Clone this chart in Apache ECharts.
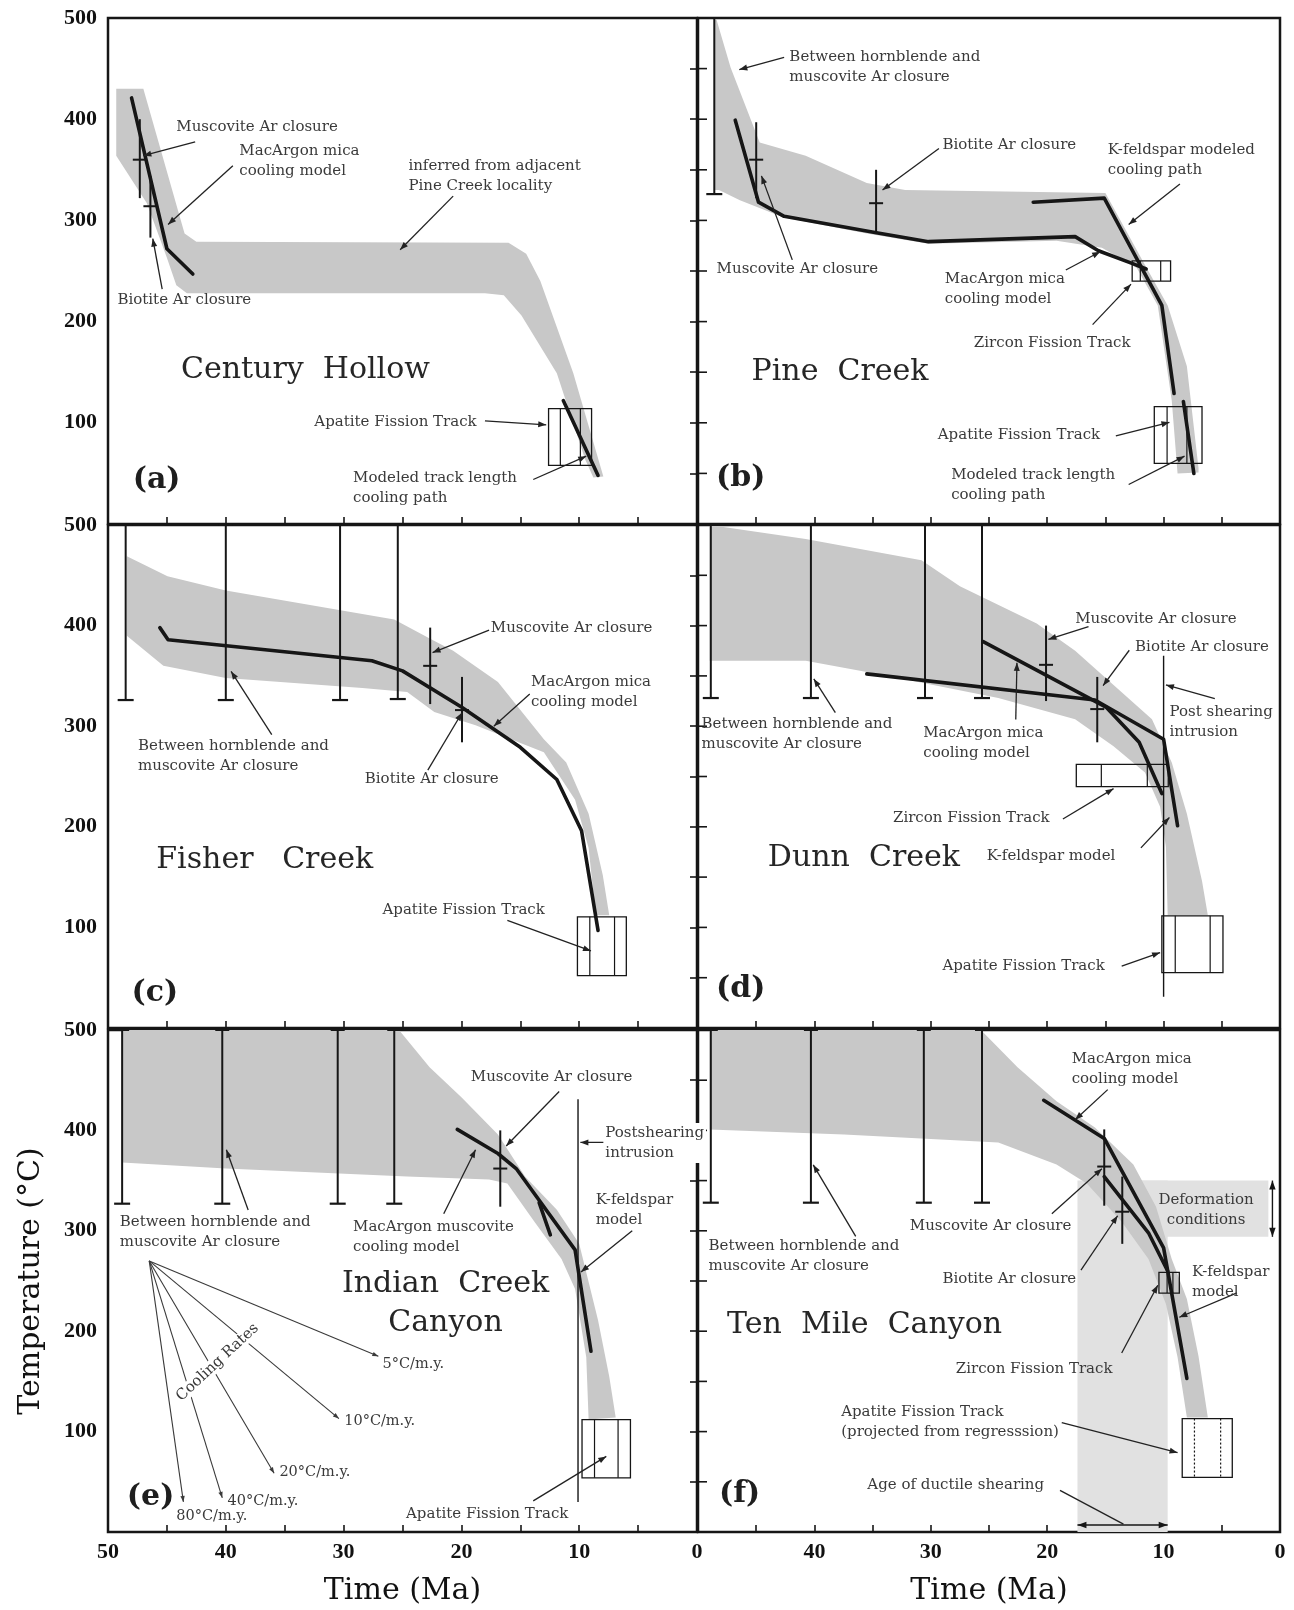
<!DOCTYPE html>
<html><head><meta charset="utf-8">
<script src="https://cdn.jsdelivr.net/npm/echarts/dist/echarts.min.js"></script>
<style>html,body{margin:0;padding:0;background:#fff}#c{width:1294px;height:1610px}</style>
</head><body><div id="c"></div>
<script>
// ---------------- axis labels ----------------
const timeLabelsLeft = [50, 40, 30, 20, 10, 0];
const timeLabelsRight = [40, 30, 20, 10, 0];
const tempLabels = [500, 400, 300, 200, 100];
const tempTicks = [0, 50, 100, 150, 200, 250, 300, 350, 400, 450, 500];

// ---------------- (a) Century Hollow ----------------
const bandA = [[49.3,430],[47.0,430],[43.5,287],[42.5,279],[16,278],[14.5,267],[13.3,240],[10.5,149],[7.95,47],[8.8,46],[9.5,64],[11.9,149],[14.9,206],[16.4,226],[18,228],[43.3,228],[44.2,236],[45.0,263],[46.7,317],[49.3,364]];
const pathA_mica = [[48.0,421],[45.0,272],[42.8,247]];
const pathA_track = [[11.35,122],[8.4,48]];
const closureA = [[47.3,322,400,360],[46.4,283,344,314]];   // [time, low T, high T, closure T]
const boxA = [[12.6,8.95,58,114,11.6,9.9]];                 // [t left, t right, low T, high T, inner t...]
const annA = [
  ['Muscovite Ar closure', 44.2, 392, [42.6,377.5,47.0,364]],
  ['MacArgon mica\ncooling model', 38.85, 368, [39.4,354,44.9,296]],
  ['Biotite Ar closure', 49.2, 221, [45.4,232,46.2,282]],
  ['inferred from adjacent\nPine Creek locality', 24.5, 354, [20.7,324,25.2,271]],
  ['Apatite Fission Track', 18.7, 100.5, [18.0,102,12.8,98], 'right'],
  ['Modeled track length\ncooling path', 29.2, 45.5, [13.9,44,9.4,67]]
];

// ---------------- (b) Pine Creek ----------------
const bandB = [[48.6,500],[48.4,498],[47.2,451],[44.7,377],[40.75,364],[35.5,337],[32.2,330],[15,327],[11.6,256],[9.65,216],[8.0,156],[7.0,55],[7.0,51],[8.8,50],[9.3,122],[10.5,216],[12.3,253],[15.3,273],[19.2,280],[30.2,277],[35.5,287],[42.7,303],[46.4,320],[48.2,330],[48.6,330]];
const pathB_mica = [[46.8,399],[44.8,318],[42.6,304],[34.8,288],[30.2,279],[17.6,284],[15.6,270],[12.6,257],[11.5,252]];
const pathB_kfs = [[21.2,318],[15.1,322],[10.15,216],[9.1,129]];
const pathB_track = [[8.3,121],[7.4,50]];
const rangeB = [[48.6,326,500]];
const closureB = [[45.0,322,397,360],[34.7,287,350,317]];
const boxB = [[12.7,9.4,240,260,12.0,10.25],[10.8,6.7,60,116,9.7,8.0]];
const annB = [
  ['Between hornblende and\nmuscovite Ar closure', 42.15, 461.7, [42.6,461,46.45,449]],
  ['Biotite Ar closure', 29.0, 374, [29.3,371,34.15,330]],
  ['K-feldspar modeled\ncooling path', 14.8, 369, [8.6,336,13.0,296]],
  ['Muscovite Ar closure', 48.4, 251.7, [41.9,261,44.55,344]],
  ['MacArgon mica\ncooling model', 28.8, 242.4, [18.4,251,15.45,269]],
  ['Zircon Fission Track', 26.3, 179, [16.1,197,12.8,237]],
  ['Apatite Fission Track', 29.4, 88, [14.1,87,9.5,100.5]],
  ['Modeled track length\ncooling path', 28.25, 48, [13.0,39,8.2,67]]
];

// ---------------- (c) Fisher Creek ----------------
const bandC = [[48.4,469],[44.95,449],[40,435],[25.7,406],[22.65,387],[20.7,375],[16.9,344],[13.0,287],[11.1,264],[9.2,213],[8.0,152],[7.45,112],[8.6,112],[9.2,179],[10.35,227],[13.0,274],[18.8,301],[22.3,314],[24.6,334],[28.4,338],[40,348],[45.3,360],[48.4,390]];
const pathC = [[45.6,398],[44.9,386],[27.6,365],[25.0,355],[20.0,319],[15.0,279],[11.9,247],[9.8,196],[8.4,97]];
const rangeC = [[48.5,326,500],[40.0,326,500],[30.3,326,500],[25.4,327,500]];
const closureC = [[22.65,322,398,360],[19.95,284,349,316]];
const boxC = [[10.15,6.0,52,110.5,9.1,7.0]];
const annC = [
  ['Muscovite Ar closure', 17.5, 397.4, [17.65,395.6,22.45,373.2]],
  ['MacArgon mica\ncooling model', 14.1, 343.6, [14.2,332,17.25,300]],
  ['Between hornblende and\nmuscovite Ar closure', 47.45, 279.8, [36.1,291.6,39.55,354.4]],
  ['Biotite Ar closure', 28.2, 247.2, [22.85,256.4,19.95,313.4]],
  ['Apatite Fission Track', 26.7, 117.6, [16.1,107,9.0,76.6]]
];

// ---------------- (d) Dunn Creek ----------------
const bandD = [[49.0,500],[40.75,486],[30.8,465],[27.5,439],[20.9,402],[17.6,375],[14.3,341],[11.0,307],[9.3,264],[8.0,213],[6.7,146],[6.2,112],[9.65,112],[9.8,180],[10.3,220],[11.6,254],[14.3,280],[17.6,307],[24.2,328],[34.1,351],[40.75,365],[49.0,365]];
const pathD_kfs = [[35.5,352],[15.9,326],[10.0,287],[8.8,201]];
const pathD_mica = [[25.5,384],[14.95,319],[12.1,284],[10.15,233]];
const rangeD = [[48.9,328,500],[40.3,328,500],[30.5,328,500],[25.6,328,500]];
const closureD = [[20.1,325,400,361],[15.7,284,349,317]];
const boxD = [[17.5,9.6,240,262,15.35,11.4],[10.15,4.9,55,111.5,9.0,6.0]];
const intrusionD = [[10.0,31,370]];
const annD = [
  ['Muscovite Ar closure', 17.6, 406.8, [16.45,399,19.9,386.3]],
  ['Biotite Ar closure', 12.45, 378.9, [12.95,375.5,15.2,340.3]],
  ['Post shearing\nintrusion', 9.5, 314.4, [5.6,327.5,9.8,341]],
  ['Between hornblende and\nmuscovite Ar closure', 49.7, 301.7, [38.2,313.4,40.05,347]],
  ['MacArgon mica\ncooling model', 30.65, 293.2, [22.7,306.7,22.6,363]],
  ['Zircon Fission Track', 33.25, 208.7, [18.65,207.7,14.3,237.9]],
  ['K-feldspar model', 25.2, 170.7, [11.95,179,9.5,209.3]],
  ['Apatite Fission Track', 29.0, 61.5, [13.6,61.5,10.3,75]]
];

// ---------------- (e) Indian Creek Canyon ----------------
const bandE = [[48.8,500],[25.3,500],[22.7,463],[20.0,433],[16.9,396],[14.6,354],[11.9,321],[10.0,287],[9.2,249],[8.4,211],[7.45,155],[6.9,114],[9.2,112],[9.4,174],[10.35,242],[11.5,272],[13.8,309],[16.1,347],[17.65,351],[24.6,354],[40,362],[48.8,368]];
const pathE_mica = [[20.35,401],[16.9,377],[15.35,362],[10.35,281],[9.0,180]];
const pathE_kfs = [[13.4,328],[12.45,296]];
const rangeE = [[48.8,327,500],[40.3,327,500],[30.5,327,500],[25.7,327,500]];
const closureE = [[16.7,324,400,362]];
const boxE = [[9.76,5.65,54,112,8.7,6.7]];
const intrusionE = [[10.1,30,431]];
const coolingOrigin = [46.5, 270];
const coolingRateLabels = ['5°C/m.y.', '10°C/m.y.', '20°C/m.y.', '40°C/m.y.', '80°C/m.y.'];
const coolingRateEnds = [[27.05,175],[30.4,113],[35.9,58.5],[40.3,34],[43.6,30]];
const coolingRateLabelPos = [[26.7,167],[29.95,110],[35.45,60],[39.85,31],[44.2,15.3]];
const annE = [
  ['Muscovite Ar closure', 19.2, 453, [11.7,438.7,16.2,384.5]],
  ['Postshearing\nintrusion', 7.95, 397.5, [6.2,388,9.9,388], 'left', true],
  ['K-feldspar\nmodel', 8.6, 330.9, [5.5,300,9.85,259]],
  ['Between hornblende and\nmuscovite Ar closure', 49.0, 308.8, [38.1,320.7,39.95,380.7]],
  ['MacArgon muscovite\ncooling model', 29.2, 303.9, [21.5,317,18.8,380.7]],
  ['Apatite Fission Track', 24.7, 18.3, [13.9,31,7.7,75.3]]
];

// ---------------- (f) Ten Mile Canyon ----------------
const bandF = [[49,500],[25.7,500],[22.55,463],[19.2,429],[15.9,403],[12.6,366],[10.65,324],[9.3,272],[8.0,232],[7.0,175],[6.2,114],[8.0,114],[8.8,174],[9.8,227],[11.3,272],[13.6,309],[16.6,347],[19.2,366],[24.2,388],[37.45,396],[49,401]];
const shearingAgeF = [17.4, 9.65, 0, 350];      // [t left, t right, low T, high T]
const deformationF = [12.0, 1.0, 294, 350];
const pathF_mica = [[20.3,430],[15.1,392],[10.0,283],[8.0,153]];
const pathF_kfs = [[15.1,354],[11.3,298],[9.65,260]];
const rangeF = [[48.9,328,500],[40.3,328,500],[30.6,328,500],[25.6,328,500]];
const closureF = [[15.1,325,401,364],[13.55,287,354,319]];
const boxF_zircon = [[10.4,8.65,238,258.5,9.7,9.2]];
const boxF_apatite = [[8.4,4.1,54.4,113,7.35,5.1]];
const doubleArrowsF = [[17.4,6.9,9.65,6.9],[0.65,350,0.65,294]];
const annF = [
  ['MacArgon mica\ncooling model', 17.9, 470.6, [14.8,440.6,17.6,410.7]],
  ['Muscovite Ar closure', 31.8, 304.6, [19.6,316.9,15.3,361.9]],
  ['Deformation\nconditions', 6.35, 330.1, null, 'center'],
  ['Between hornblende and\nmuscovite Ar closure', 49.1, 285.2, [36.45,294.5,40.1,365.7]],
  ['Biotite Ar closure', 29.0, 252.2, [17.1,260.8,13.95,315]],
  ['K-feldspar\nmodel', 7.55, 258.9, [3.7,238.2,8.65,213.9]],
  ['Zircon Fission Track', 27.85, 162.2, [13.6,178.3,10.5,245.8]],
  ['Apatite Fission Track\n(projected from regresssion)', 37.7, 119.5, [18.75,109,8.8,79]],
  ['Age of ductile shearing', 35.45, 47.2, [18.9,41.5,13.45,7.9,0]]
];

// ---------------- titles ----------------
const siteNames = [
  ['Century  Hollow', 43.8, 152],
  ['Pine  Creek', 45.4, 150],
  ['Fisher   Creek', 45.9, 167],
  ['Dunn  Creek', 44.0, 169],
  ['Indian  Creek\nCanyon', 21.35, 247, null, 'center'],
  ['Ten  Mile  Canyon', 47.5, 206]
];
const panelLetters = [['(a)',47.9,43],['(b)',48.45,45.5],['(c)',48.0,34.8],['(d)',48.45,38.1],['(e)',48.4,34.9],['(f)',48.2,37.8]];

// ======================================================
const SERIF = 'DejaVu Serif';
const TICKF = 'Liberation Serif';
const INK = '#161616';
const TXT = '#3a3a3a';
const BAND = '#c8c8c8';
const LIGHT = '#e1e1e1';

const GRIDS = [
  {left:108, top:18, width:589, height:506},
  {left:698, top:18, width:582, height:506},
  {left:108, top:525, width:589, height:503},
  {left:698, top:525, width:582, height:503},
  {left:108, top:1030, width:589, height:502},
  {left:698, top:1030, width:582, height:502}
];

const series = [];
const base = (i, z) => ({type:'custom', xAxisIndex:i, yAxisIndex:i, z, silent:true, animation:false, clip:false});
const seg = (x1,y1,x2,y2,w,c,dash) => ({type:'line', shape:{x1,y1,x2,y2}, style:{stroke:c||INK, lineWidth:w, lineDash:dash||null}});

function headEls(p1, p2, len, wid, color) {
  const dx = p2[0]-p1[0], dy = p2[1]-p1[1], L = Math.hypot(dx,dy) || 1;
  const ux = dx/L, uy = dy/L;
  const bx = p2[0]-ux*len, by = p2[1]-uy*len;
  return {type:'polygon', shape:{points:[[p2[0],p2[1]],[bx-uy*wid,by+ux*wid],[bx+uy*wid,by-ux*wid]]}, style:{fill:color||INK}};
}
function arrowEls(api, ar, color, w, len, wid) {
  const p1 = api.coord([ar[0],ar[1]]), p2 = api.coord([ar[2],ar[3]]);
  const out = [seg(p1[0],p1[1],p2[0],p2[1],w,color)];
  if (ar[4] !== 0) out.push(headEls(p1,p2,len,wid,color));
  return out;
}

function polySeries(i, pts, color, z) {
  series.push(Object.assign(base(i,z), {data:[pts[0]],
    renderItem:(params, api) => ({type:'polygon', shape:{points:pts.map(q => api.coord(q))}, style:{fill:color}})}));
}
function rectSeries(i, r, color, z) {
  series.push(Object.assign(base(i,z), {data:[[r[0],r[2]]],
    renderItem:(params, api) => {
      const a = api.coord([r[0],r[3]]), b = api.coord([r[1],r[2]]);
      return {type:'rect', shape:{x:a[0], y:a[1], width:b[0]-a[0], height:b[1]-a[1]}, style:{fill:color}};
    }}));
}
function pathSeries(i, path) {
  series.push({type:'line', xAxisIndex:i, yAxisIndex:i, data:path, symbol:'none', silent:true, animation:false, z:7,
    lineStyle:{color:INK, width:3.6, cap:'round', join:'round'}});
}
function rangeSeries(i, bars) {
  series.push(Object.assign(base(i,5), {data:bars,
    renderItem:(params, api) => {
      const t = api.value(0), a = api.coord([t, api.value(2)]), b = api.coord([t, api.value(1)]);
      return {type:'group', children:[seg(a[0],a[1],b[0],b[1],2), seg(a[0]-7,a[1],a[0]+7,a[1],2), seg(b[0]-8,b[1],b[0]+8,b[1],2.2)]};
    }}));
}
function closureSeries(i, bars) {
  series.push(Object.assign(base(i,6), {data:bars,
    renderItem:(params, api) => {
      const t = api.value(0), a = api.coord([t, api.value(2)]), b = api.coord([t, api.value(1)]), m = api.coord([t, api.value(3)]);
      return {type:'group', children:[seg(a[0],a[1],b[0],b[1],2), seg(m[0]-7,m[1],m[0]+7,m[1],2)]};
    }}));
}
function vlineSeries(i, lines) {
  series.push(Object.assign(base(i,6), {data:lines,
    renderItem:(params, api) => {
      const t = api.value(0), a = api.coord([t, api.value(2)]), b = api.coord([t, api.value(1)]);
      return seg(a[0],a[1],b[0],b[1],1.4);
    }}));
}
// inward ticks on the left edge of right-hand panels
function innerTickSeries(i) {
  series.push(Object.assign(base(i,8), {data:tempTicks.map(v => [50, v]),
    renderItem:(params, api) => {
      const p = api.coord([api.value(0), api.value(1)]);
      return seg(p[0], p[1], p[0]+9, p[1], 1.6);
    }}));
}
function boxSeries(i, boxes, dashInner) {
  series.push(Object.assign(base(i,6), {data:boxes.map(b => [b[0], b[2]]),
    renderItem:(params, api) => {
      const b = boxes[params.dataIndex];
      const a = api.coord([b[0], b[3]]), c = api.coord([b[1], b[2]]);
      const ch = [{type:'rect', shape:{x:a[0], y:a[1], width:c[0]-a[0], height:c[1]-a[1]}, style:{fill:'none', stroke:INK, lineWidth:1.3}}];
      b.slice(4).forEach(t => { const p = api.coord([t, b[3]]); ch.push(seg(p[0], a[1], p[0], c[1], 1.2, INK, dashInner ? [2,2] : null)); });
      return {type:'group', children:ch};
    }}));
}
// list item: [text, t, T, arrow|null, align, whiteBackground]
function textSeries(i, list, font, lh, color, z) {
  series.push(Object.assign(base(i, z || 9), {data:list.map(a => [a[1], a[2]]),
    renderItem:(params, api) => {
      const a = list[params.dataIndex];
      const p = api.coord([a[1], a[2]]);
      const st = {text:a[0], fill:color, fontFamily:font.family, fontSize:font.size, fontWeight:font.weight||'normal',
        align:a[4] || 'left', verticalAlign:'top', lineHeight:lh};
      if (a[5]) { st.backgroundColor = '#fff'; st.padding = [0,2]; }
      const ch = [{type:'text', x:p[0], y:p[1]-lh/2, z2:10, style:st}];
      if (Array.isArray(a[3])) ch.push(...arrowEls(api, a[3], '#222', 1.3, 8, 3));
      return {type:'group', children:ch};
    }}));
}
function doubleArrowSeries(i, list) {
  series.push(Object.assign(base(i,8), {data:list.map(a => [a[0],a[1]]),
    renderItem:(params, api) => {
      const a = list[params.dataIndex];
      const p1 = api.coord([a[0],a[1]]), p2 = api.coord([a[2],a[3]]);
      return {type:'group', children:[seg(p1[0],p1[1],p2[0],p2[1],1.4), headEls(p1,p2,9,3.2), headEls(p2,p1,9,3.2)]};
    }}));
}
function fanSeries(i) {
  series.push(Object.assign(base(i,8), {data:coolingRateEnds,
    renderItem:(params, api) => {
      const o = api.coord(coolingOrigin), e = api.coord(coolingRateEnds[params.dataIndex]);
      const ch = [seg(o[0],o[1],e[0],e[1],1.1,'#3a3a3a'), headEls(o,e,6,2.2,'#3a3a3a')];
      const lp = api.coord(coolingRateLabelPos[params.dataIndex]);
      ch.push({type:'text', x:lp[0], y:lp[1], style:{text:coolingRateLabels[params.dataIndex], fill:TXT, fontFamily:SERIF, fontSize:14.5, align:'left', verticalAlign:'middle'}});
      if (params.dataIndex === 0) {
        const c = api.coord([40.7,169]);
        ch.push({type:'text', x:c[0], y:c[1], rotation:43*Math.PI/180, z2:5, style:{text:'Cooling Rates', fill:TXT, fontFamily:SERIF, fontSize:15, align:'center', verticalAlign:'middle', backgroundColor:'#fff', padding:[0,2]}});
      }
      return {type:'group', children:ch};
    }}));
}

const annFont = {family:SERIF, size:15};
const siteFont = {family:SERIF, size:30};
const letterFont = {family:SERIF, size:30, weight:'bold'};

// (a)
polySeries(0, bandA, BAND, 2);
pathSeries(0, pathA_mica); pathSeries(0, pathA_track);
closureSeries(0, closureA); boxSeries(0, boxA);
textSeries(0, annA, annFont, 20, TXT);
// (b)
polySeries(1, bandB, BAND, 2);
pathSeries(1, pathB_mica); pathSeries(1, pathB_kfs); pathSeries(1, pathB_track);
rangeSeries(1, rangeB); closureSeries(1, closureB); boxSeries(1, boxB);
textSeries(1, annB, annFont, 20, TXT);
// (c)
polySeries(2, bandC, BAND, 2);
pathSeries(2, pathC);
rangeSeries(2, rangeC); closureSeries(2, closureC); boxSeries(2, boxC);
textSeries(2, annC, annFont, 20, TXT);
// (d)
polySeries(3, bandD, BAND, 2);
pathSeries(3, pathD_kfs); pathSeries(3, pathD_mica);
rangeSeries(3, rangeD); closureSeries(3, closureD); boxSeries(3, boxD); vlineSeries(3, intrusionD);
textSeries(3, annD, annFont, 20, TXT);
// (e)
polySeries(4, bandE, BAND, 2);
pathSeries(4, pathE_mica); pathSeries(4, pathE_kfs);
rangeSeries(4, rangeE); closureSeries(4, closureE); boxSeries(4, boxE); vlineSeries(4, intrusionE);
fanSeries(4);
textSeries(4, annE, annFont, 20, TXT, 12);
// (f)
rectSeries(5, shearingAgeF, LIGHT, 1); rectSeries(5, deformationF, LIGHT, 1);
polySeries(5, bandF, BAND, 2);
pathSeries(5, pathF_mica); pathSeries(5, pathF_kfs);
rangeSeries(5, rangeF); closureSeries(5, closureF); boxSeries(5, boxF_zircon); boxSeries(5, boxF_apatite, true);
doubleArrowSeries(5, doubleArrowsF);
textSeries(5, annF, annFont, 20, TXT);
// inward ticks of the right-hand panels
innerTickSeries(1); innerTickSeries(3); innerTickSeries(5);
// titles & letters
siteNames.forEach((s, i) => textSeries(i, [s], siteFont, 39, '#262626', 9));
panelLetters.forEach((s, i) => textSeries(i, [s], letterFont, 36, '#1e1e1e', 9));

const option = {
  animation:false,
  backgroundColor:'#fff',
  grid: GRIDS.map(g => Object.assign({show:true, borderColor:INK, borderWidth:2.5, backgroundColor:'rgba(0,0,0,0)'}, g)),
  xAxis: GRIDS.map((g, i) => ({
    gridIndex:i, type:'value', position:'bottom', min:0, max:50, interval:5, inverse:true,
    axisLine:{show:false}, splitLine:{show:false},
    axisTick:{show:true, inside:true, length:7, lineStyle:{color:INK, width:1.6}},
    axisLabel:{show:i >= 4, showMinLabel:true, showMaxLabel:true, margin:9,
      formatter:v => ((i === 4 ? timeLabelsLeft : timeLabelsRight).includes(v) ? String(v) : ''),
      fontFamily:TICKF, fontWeight:'bold', fontSize:22, color:'#111'},
    name: i >= 4 ? 'Time (Ma)' : '', nameLocation:'middle', nameGap:44,
    nameTextStyle:{fontFamily:SERIF, fontSize:30, color:'#111'}
  })),
  yAxis: GRIDS.map((g, i) => ({
    gridIndex:i, type:'value', position:'left', min:0, max:500, interval:50,
    axisLine:{show:false}, splitLine:{show:false},
    axisTick:{show:i % 2 === 0, inside:false, length:7, lineStyle:{color:INK, width:1.6}},
    axisLabel:{show:i % 2 === 0, showMinLabel:true, showMaxLabel:true, margin:11,
      formatter:v => (tempLabels.includes(v) ? String(v) : ''),
      fontFamily:TICKF, fontWeight:'bold', fontSize:22, color:'#111'},
    name: i === 4 ? 'Temperature (°C)' : '', nameLocation:'middle', nameGap:62,
    nameTextStyle:{fontFamily:SERIF, fontSize:30, color:'#111'}
  })),
  series
};
const chart = echarts.init(document.getElementById('c'), null, {renderer:'canvas'});
chart.setOption(option);
</script></body></html>
